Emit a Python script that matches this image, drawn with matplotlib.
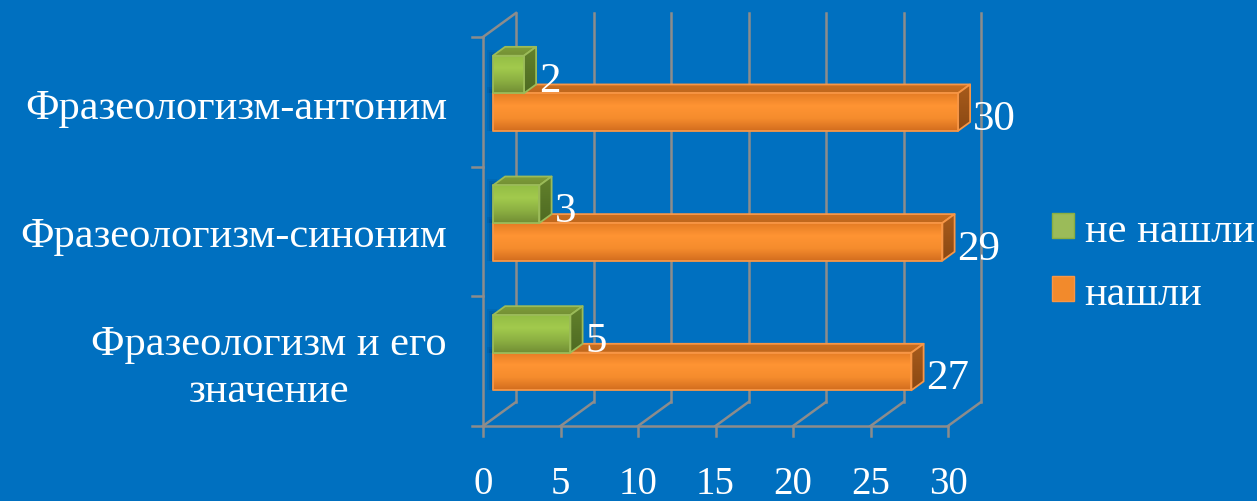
import numpy as np
import matplotlib
matplotlib.use("Agg")
import matplotlib.pyplot as plt
from matplotlib.patches import Polygon, Patch
from matplotlib.colors import LinearSegmentedColormap

# ---------------- data ----------------
categories = ["Фразеологизм и его\nзначение", "Фразеологизм-синоним", "Фразеологизм-антоним"]
series_names = ["не нашли", "нашли"]
not_found = [5, 3, 2]
found = [27, 29, 30]
xticks = [0, 5, 10, 15, 20, 25, 30]

# ---------------- style / layout ----------------
W, H = 1257, 502
BG = "#0070C0"
GRID = "#8C8C8C"
FONT = "Liberation Serif"
PX_PER_VAL = 15.5
PX_PER_CAT = 129.67
X0_PX, Y0_PX = 483, 427          # front origin in pixels
DEPTH_DX = 33 / PX_PER_VAL       # oblique depth in data units
DEPTH_DY = 24 / PX_PER_CAT
F0, F1 = 0.30, 0.67              # bar depth slab
BAR_H = 0.29
GROUP_C = 0.51

fig = plt.figure(figsize=(W / 100, H / 100), dpi=100, facecolor=BG)
ax = fig.add_axes([0, 0, 1, 1])
ax.set_facecolor(BG)
ax.set_axis_off()
xlim = ((0 - X0_PX) / PX_PER_VAL, (W - X0_PX) / PX_PER_VAL)
ylim = ((Y0_PX - H) / PX_PER_CAT, Y0_PX / PX_PER_CAT)

vmax = xticks[-1]
ncat = len(categories)
lw = 1.8

def px2x(p):
    return p / PX_PER_VAL

def px2y(p):
    return p / PX_PER_CAT

# ---- walls / floor ----
for t in xticks:
    ax.plot([t + DEPTH_DX, t + DEPTH_DX], [DEPTH_DY, ncat + DEPTH_DY], color=GRID, lw=lw, zorder=1)
    ax.plot([t, t + DEPTH_DX], [0, DEPTH_DY], color=GRID, lw=lw, zorder=1)
    ax.plot([t, t], [0, -px2y(10)], color=GRID, lw=lw, zorder=1)
    ax.text(t, -px2y(67), str(t), ha="center", va="baseline", color="white",
            fontsize=28, family=FONT, zorder=5)
ax.plot([0, vmax], [0, 0], color=GRID, lw=lw, zorder=1)
ax.plot([0, 0], [0, ncat], color=GRID, lw=lw, zorder=1)
ax.plot([0, DEPTH_DX], [ncat, ncat + DEPTH_DY], color=GRID, lw=lw, zorder=1)
for c in range(ncat + 1):
    ax.plot([-px2x(11), 0], [c, c], color=GRID, lw=lw, zorder=1)

# ---- bars ----
def grad_poly(verts, colors, z, edge=None):
    poly = Polygon(verts, closed=True, facecolor="none", edgecolor="none", zorder=z)
    ax.add_patch(poly)
    cmap = LinearSegmentedColormap.from_list("g", colors)
    xs = [v[0] for v in verts]
    ys = [v[1] for v in verts]
    g = np.linspace(0, 1, 256).reshape(-1, 1)
    im = ax.imshow(g, extent=(min(xs), max(xs), min(ys), max(ys)), cmap=cmap,
                   aspect="auto", origin="upper", zorder=z, interpolation="bilinear")
    im.set_clip_path(poly)
    if edge is not None:
        ax.add_patch(Polygon(verts, closed=True, facecolor="none", edgecolor=edge,
                             lw=1.3, zorder=z + 0.01, joinstyle="round"))

STYLES = {
    "нашли": dict(front=["#E47C24", "#FF9433", "#F58C2D", "#D26C1E"],
                  top=["#C86E20", "#BF671C"], side=["#A85C1C", "#8A4813"], edge="#F79646"),
    "не нашли": dict(front=["#93BD45", "#A2CA4D", "#8CB042", "#718D34"],
                     top=["#7E9E3A", "#738F34"], side=["#63822C", "#4E6A22"], edge="#9BBB59"),
}

def draw_bar(v, y0, y1, st, z):
    ax0, ax1 = F0 * DEPTH_DX, F1 * DEPTH_DX
    ay0, ay1 = F0 * DEPTH_DY, F1 * DEPTH_DY
    for k, a in zip([6, 4, 2], [0.10, 0.12, 0.15]):
        sh = Polygon([(ax0 - px2x(k), y0 + ay0), (ax0 + px2x(4), y0 + ay0),
                      (ax0 + px2x(4), y1 + ay0 + px2y(k)), (ax0 - px2x(k), y1 + ay0 + px2y(k))],
                     closed=True, facecolor="#00305F", edgecolor="none", alpha=a, zorder=z - 0.05)
        ax.add_patch(sh)
    top = [(ax0, y1 + ay0), (v + ax0, y1 + ay0), (v + ax1, y1 + ay1), (ax1, y1 + ay1)]
    side = [(v + ax0, y0 + ay0), (v + ax1, y0 + ay1), (v + ax1, y1 + ay1), (v + ax0, y1 + ay0)]
    front = [(ax0, y0 + ay0), (v + ax0, y0 + ay0), (v + ax0, y1 + ay0), (ax0, y1 + ay0)]
    grad_poly(top, st["top"], z, st["edge"])
    grad_poly(side, st["side"], z + 0.02, st["edge"])
    grad_poly(front, st["front"], z + 0.04, st["edge"])
    ax.text(v + ax1 + px2x(3), y0 + ay0 + px2y(2), str(v), ha="left", va="baseline",
            color="white", fontsize=31, family=FONT, zorder=6)

for i in range(ncat):
    yo0 = i + GROUP_C - BAR_H
    draw_bar(found[i], yo0, yo0 + BAR_H, STYLES["нашли"], 2 + i * 0.2)
    yg0 = i + GROUP_C
    draw_bar(not_found[i], yg0, yg0 + BAR_H, STYLES["не нашли"], 2.1 + i * 0.2)

# ---- category labels (baseline of last line) ----
cat_base = [0.193, 1.388, 2.375]
for i, name in enumerate(categories):
    ax.text(px2x(447 - X0_PX), cat_base[i], name, ha="right", va="baseline",
            multialignment="center", color="white", fontsize=30.5, family=FONT,
            linespacing=1.29, zorder=5)

# ---- legend ----
handles = [Patch(facecolor="#9BBB59", edgecolor="#8AAE41", lw=1),
           Patch(facecolor="#F28A2C", edgecolor="#F79646", lw=1)]
leg = ax.legend(handles, series_names, loc="upper left",
                bbox_to_anchor=(1052 / W, 1 - 212 / H), bbox_transform=fig.transFigure,
                frameon=False, handlelength=0.52, handleheight=0.52,
                handletextpad=0.25, labelspacing=0.58, borderpad=0, borderaxespad=0,
                prop={"family": FONT, "size": 30.5})
for t in leg.get_texts():
    t.set_color("white")

ax.set_xlim(*xlim)
ax.set_ylim(*ylim)
fig.savefig("out.png", dpi=100, facecolor=BG)
